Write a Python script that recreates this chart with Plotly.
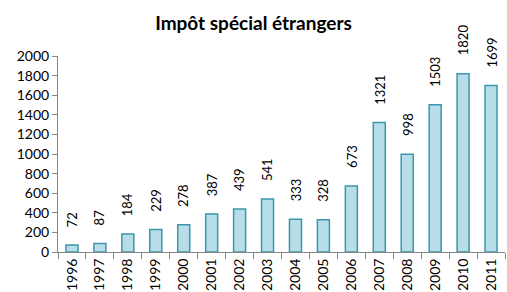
import plotly.graph_objects as go

years = ["1996", "1997", "1998", "1999", "2000", "2001", "2002", "2003",
         "2004", "2005", "2006", "2007", "2008", "2009", "2010", "2011"]
values = [72, 87, 184, 229, 278, 387, 439, 541, 333, 328, 673, 1321, 998, 1503, 1820, 1699]
title_text = "Impôt spécial étrangers"
y_ticks = [0, 200, 400, 600, 800, 1000, 1200, 1400, 1600, 1800, 2000]

FONT = "Lato, 'Open Sans', sans-serif"

fig = go.Figure()
fig.add_trace(go.Bar(
    x=years, y=values,
    marker=dict(color="#b7dde8", line=dict(color="#3b97ad", width=1.5)),
    cliponaxis=False,
    hoverinfo="skip",
))

annotations = [
    dict(x=i, y=v, xref="x", yref="y", text=str(v), showarrow=False,
         textangle=-90, yanchor="bottom", xanchor="center", yshift=16,
         font=dict(family=FONT, size=13, color="#000000"))
    for i, v in enumerate(values)
]

fig.update_layout(
    width=507, height=292,
    margin=dict(l=58, r=2, t=56, b=40, autoexpand=False),
    paper_bgcolor="white", plot_bgcolor="white",
    bargap=0.57,
    showlegend=False,
    title=dict(text="<b>" + title_text + "</b>", x=0.5, xanchor="center",
               y=0.92, yanchor="middle",
               font=dict(family=FONT, size=19, color="#000000")),
    font=dict(family=FONT, size=13, color="#000000"),
    annotations=annotations,
    xaxis=dict(
        type="category", tickangle=-90, automargin=False,
        range=[-0.5, len(years) - 0.5],
        showline=True, linecolor="#868686", linewidth=1,
        ticks="outside", ticklen=6, tickcolor="#868686",
        tickson="boundaries", ticklabelstandoff=0,
        showgrid=False, zeroline=False,
        tickfont=dict(family=FONT, size=14, color="#000000"),
    ),
    yaxis=dict(
        range=[0, 2000], tickvals=y_ticks, automargin=False,
        showline=True, linecolor="#868686", linewidth=1,
        ticks="outside", ticklen=5, tickcolor="#868686",
        showgrid=False, zeroline=False,
        tickfont=dict(family=FONT, size=14, color="#000000"),
    ),
)

fig.write_html("out.html", config={"displayModeBar": False},
               post_script="document.body.style.margin='0';")
